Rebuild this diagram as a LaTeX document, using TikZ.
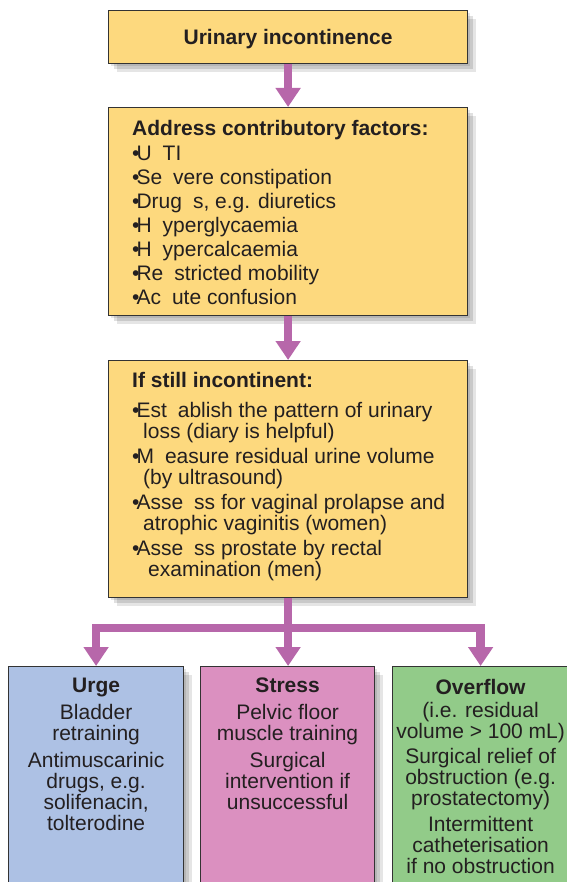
\documentclass[tikz,border=0pt]{standalone}
\usepackage{fontspec}
\setmainfont{Liberation Sans}
\usetikzlibrary{arrows.meta, shadows, positioning}

\definecolor{boxyellow}{RGB}{253,217,126}
\definecolor{boxblue}{RGB}{173,193,228}
\definecolor{boxpink}{RGB}{219,144,192}
\definecolor{boxgreen}{RGB}{146,203,137}
\definecolor{flowpurple}{RGB}{183,103,170}
\definecolor{inktext}{RGB}{35,31,32}

\newcommand{\itemdot}{•\kern-3pt}
\newcommand{\gap}{\hspace{11pt}}

\tikzset{
  softshadow/.style={
    drop shadow={shadow xshift=2pt, shadow yshift=-2pt, opacity=.10, fill=black},
    drop shadow={shadow xshift=5pt, shadow yshift=-5pt, opacity=.12, fill=black},
    drop shadow={shadow xshift=8pt, shadow yshift=-8pt, opacity=.10, fill=black}},
  stepbox/.style={draw=black!80, line width=1.2pt, softshadow, inner sep=0pt,
    anchor=north west},
  boxtext/.style={inner sep=0pt, text=inktext,
    font=\fontsize{21}{21}\selectfont},
  flowarrow/.style={draw=flowpurple, line width=8.5pt,
    -{Triangle[width=24pt,length=19pt]}}
}

\begin{document}
\begin{tikzpicture}[x=1pt,y=-1pt]
  \useasboundingbox (0,0) rectangle (566,882);

  % boxes
  \node[stepbox, fill=boxyellow, minimum width=359pt, minimum height=53pt] (start) at (108,10) {};
  \node[stepbox, fill=boxyellow, minimum width=359pt, minimum height=208pt] (factors) at (108,107) {};
  \node[stepbox, fill=boxyellow, minimum width=359pt, minimum height=237pt] (still) at (108,360) {};
  \node[stepbox, fill=boxblue, minimum width=175pt, minimum height=240pt] (urge) at (8,666) {};
  \node[stepbox, fill=boxpink, minimum width=174pt, minimum height=240pt] (stress) at (200,666) {};
  \node[stepbox, fill=boxgreen, minimum width=176pt, minimum height=240pt] (overflow) at (392,666) {};

  % texts
  \node[boxtext, font=\fontsize{21}{21}\selectfont\bfseries] (starttext)
    at ([yshift=-1.5pt]start.center) {Urinary incontinence};

  \node[boxtext, align=left, anchor=north west] (factorstext)
    at ([xshift=24pt, yshift=-13pt]factors.north west) {%
    \textbf{Address contributory factors:}\\[4pt]
    \itemdot U\gap TI\\[3pt]
    \itemdot Se\gap vere constipation\\[3pt]
    \itemdot Drug\gap s, e.g. diuretics\\[3pt]
    \itemdot H\gap yperglycaemia\\[3pt]
    \itemdot H\gap ypercalcaemia\\[3pt]
    \itemdot Re\gap stricted mobility\\[3pt]
    \itemdot Ac\gap ute confusion};

  \node[boxtext, align=left, anchor=north west] (stilltext)
    at ([xshift=24pt, yshift=-12pt]still.north west) {%
    \textbf{If still incontinent:}\\[9pt]
    \itemdot Est\gap ablish the pattern of urinary\\
    \hspace*{11pt}loss (diary is helpful)\\[4pt]
    \itemdot M\gap easure residual urine volume\\
    \hspace*{11pt}(by ultrasound)\\[4pt]
    \itemdot Asse\gap ss for vaginal prolapse and\\
    \hspace*{11pt}atrophic vaginitis (women)\\[4pt]
    \itemdot Asse\gap ss prostate by rectal\\
    \hspace*{16pt}examination (men)};

  \node[boxtext, align=center, anchor=north] (urgetext)
    at ([yshift=-12pt]urge.north) {%
    \textbf{Urge}\\[6pt]
    Bladder\\
    retraining\\[6pt]
    Antimuscarinic\\
    drugs, e.g.\\
    solifenacin,\\
    tolterodine};

  \node[boxtext, align=center, anchor=north] (stresstext)
    at ([yshift=-12pt]stress.north) {%
    \textbf{Stress}\\[6pt]
    Pelvic floor\\
    muscle training\\[6pt]
    Surgical\\
    intervention if\\
    unsuccessful};

  \node[boxtext, align=center, anchor=north] (overflowtext)
    at ([yshift=-13pt]overflow.north) {%
    \textbf{Overflow}\\[2pt]
    (i.e. residual\\
    volume > 100 mL)\\[4pt]
    Surgical relief of\\
    obstruction (e.g.\\
    prostatectomy)\\[5pt]
    Intermittent\\
    catheterisation\\
    if no obstruction};

  % connectors
  \coordinate (bus) at (287.5,628);
  \draw[flowarrow] (start.south) -- (factors.north);
  \draw[flowarrow] (factors.south) -- (still.north);
  \draw[flowarrow] (still.south) -- (still.south |- stress.north);
  \draw[flowarrow] (bus) -| (urge.north);
  \draw[flowarrow] (bus) -| (overflow.north);
\end{tikzpicture}
\end{document}
